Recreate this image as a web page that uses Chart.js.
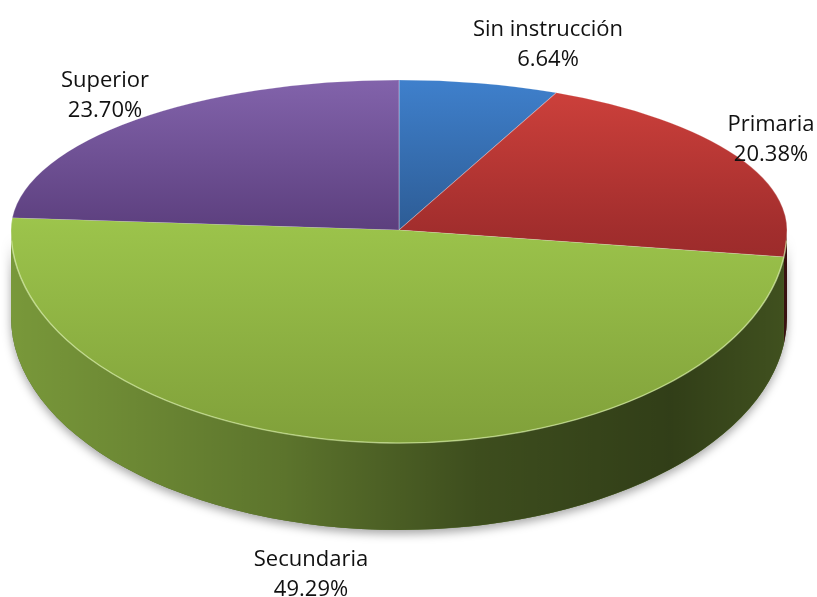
<!DOCTYPE html>
<html>
<head>
<meta charset="utf-8">
<script src="https://cdn.jsdelivr.net/npm/chart.js@4.4.0/dist/chart.umd.min.js"></script>
<style>
  html, body { margin: 0; padding: 0; background: #ffffff; }
  #wrap { width: 817px; height: 597px; position: relative; }
</style>
</head>
<body>
<div id="wrap"><canvas id="pieChart"></canvas></div>
<script>
// Chart data
const categories = ['Sin instrucción', 'Primaria', 'Secundaria', 'Superior'];
const values = [6.64, 20.38, 49.29, 23.70];
const valueLabels = ['6.64%', '20.38%', '49.29%', '23.70%'];

// Colours (top face: light at top of slice, dark at bottom; side wall base)
const topLight = ['#3f80cc', '#cc403b', '#9dc54c', '#8263ab'];
const topDark = ['#2d5c95', '#9c2b2b', '#80a03a', '#5c3f7e'];
const sideBase = ['#2a4f80', '#6e2020', '#7b9b3b', '#4f356c'];

// 3D look: where the pie face sits on the page (faked perspective)
const CX = 399, CY = 230;
const RX = 388, RY_TOP = 150, RY_BOT = 213;
const DEPTH = 87;

// label anchors (baseline of first line)
const labelAnchors = [[548, 36], [771, 131], [311, 566], [105, 87]];

const total = values.reduce((s, v) => s + v, 0);

// start / end angle of each slice, same as Chart.js default (rotation 0 = 12 o'clock)
function sliceAngles(i) {
  let cum = 0;
  for (let k = 0; k < i; k++) cum += values[k];
  const s = -Math.PI / 2 + 2 * Math.PI * cum / total;
  const e = s + 2 * Math.PI * values[i] / total;
  return [s, e];
}

function sliceYRange(i) {
  const [s, e] = sliceAngles(i);
  let ys = [0, Math.sin(s), Math.sin(e)];
  [-Math.PI / 2, Math.PI / 2, 3 * Math.PI / 2].forEach(a => {
    if (a > s && a < e) ys.push(Math.sin(a));
  });
  return [Math.min(...ys), Math.max(...ys)];
}

function faceColor(c) {
  const chart = c.chart;
  const area = chart.chartArea;
  const i = c.dataIndex;
  if (!area) return topLight[i];
  const cy = (area.top + area.bottom) / 2;
  const r = Math.min(area.right - area.left, area.bottom - area.top) / 2;
  const [y0, y1] = sliceYRange(i);
  const g = chart.ctx.createLinearGradient(0, cy + y0 * r, 0, cy + y1 * r);
  g.addColorStop(0, topLight[i]);
  g.addColorStop(1, topDark[i]);
  return g;
}

function sidePath(ctx, a, b) {
  ctx.beginPath();
  ctx.ellipse(CX, CY, RX, RY_BOT, 0, a, b, false);
  ctx.ellipse(CX, CY + DEPTH, RX, RY_BOT, 0, b, a, true);
  ctx.closePath();
}

function drawSides(ctx, meta) {
  // soft shadow under the whole front wall
  ctx.save();
  ctx.shadowColor = 'rgba(0,0,0,0.35)';
  ctx.shadowBlur = 10;
  ctx.shadowOffsetY = 4;
  sidePath(ctx, 0, Math.PI);
  ctx.fillStyle = '#55683a';
  ctx.fill();
  ctx.restore();

  meta.data.forEach((el, i) => {
    const a = Math.max(el.startAngle, 0);
    const b = Math.min(el.endAngle, Math.PI);
    if (a >= b) return;
    ctx.save();
    sidePath(ctx, a, b);
    ctx.fillStyle = sideBase[i];
    ctx.fill();
    // horizontal shading, dark to the right
    const g = ctx.createLinearGradient(CX - RX, 0, CX + RX, 0);
    g.addColorStop(0, 'rgba(0,0,0,0.02)');
    g.addColorStop(0.35, 'rgba(0,0,0,0.25)');
    g.addColorStop(0.6, 'rgba(0,0,0,0.5)');
    g.addColorStop(0.85, 'rgba(0,0,0,0.6)');
    g.addColorStop(1, 'rgba(0,0,0,0.48)');
    ctx.fillStyle = g;
    ctx.fill();
    ctx.restore();
  });
}

const pie3d = {
  id: 'pie3d',
  beforeDatasetDraw(chart, args) {
    const ctx = chart.ctx;
    const meta = args.meta;
    const el = meta.data[0];
    drawSides(ctx, meta);
    // top face drawn twice: upper half flatter than lower half (perspective)
    [[0, CY, RY_TOP], [CY, chart.height, RY_BOT]].forEach(([y0, y1, ry]) => {
      ctx.save();
      ctx.beginPath();
      ctx.rect(0, y0, chart.width, y1 - y0);
      ctx.clip();
      ctx.translate(CX, CY);
      ctx.scale(RX / el.outerRadius, ry / el.outerRadius);
      ctx.translate(-el.x, -el.y);
      meta.controller.draw();
      ctx.restore();
    });
    // light rim along the front edge
    ctx.save();
    ctx.beginPath();
    ctx.ellipse(CX, CY, RX, RY_BOT, 0, 0.05, Math.PI - 0.05, false);
    ctx.strokeStyle = 'rgba(215,240,160,0.55)';
    ctx.lineWidth = 1.5;
    ctx.stroke();
    ctx.restore();
    return false;
  },
  afterDraw(chart) {
    const ctx = chart.ctx;
    ctx.save();
    ctx.font = '22px "Open Sans", "Noto Sans", sans-serif';
    ctx.fillStyle = '#111111';
    ctx.textAlign = 'center';
    ctx.textBaseline = 'alphabetic';
    categories.forEach((name, i) => {
      const [x, y] = labelAnchors[i];
      ctx.fillText(name, x, y);
      ctx.fillText(valueLabels[i], x, y + 30);
    });
    ctx.restore();
  }
};

const ctx = document.getElementById('pieChart');
window.pieChart = new Chart(ctx, {
  type: 'pie',
  data: {
    labels: categories,
    datasets: [{
      data: values,
      backgroundColor: faceColor,
      borderColor: 'rgba(255,255,255,0.25)',
      borderWidth: 1,
      clip: false
    }]
  },
  plugins: [pie3d],
  options: {
    responsive: true,
    maintainAspectRatio: false,
    animation: false,
    events: [],
    layout: { padding: 0 },
    plugins: {
      legend: { display: false },
      tooltip: { enabled: false },
      title: { display: false }
    }
  }
});
</script>
</body>
</html>
